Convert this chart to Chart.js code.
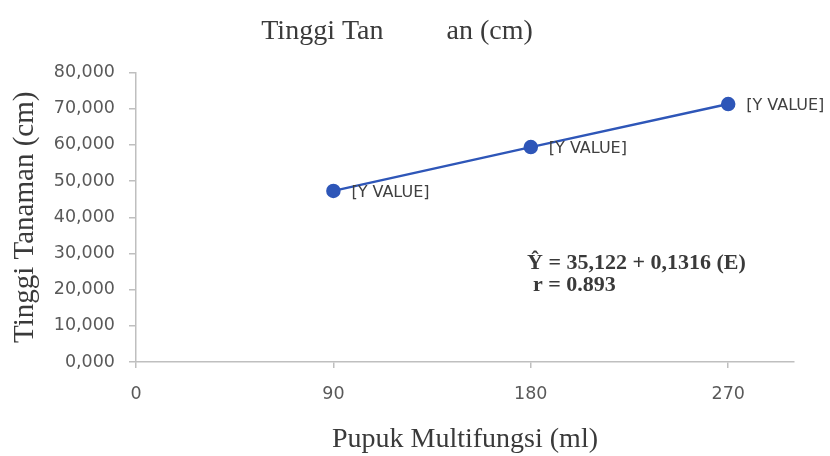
<!DOCTYPE html>
<html><head><meta charset="utf-8">
<script src="https://cdn.jsdelivr.net/npm/chart.js@4.4.0/dist/chart.umd.min.js"></script>
<style>html,body{margin:0;padding:0;background:#fff}#wrap{width:830px;height:456px}</style>
</head><body><div id="wrap"><canvas id="c" width="830" height="456"></canvas></div>
<script>
const doses = [90, 180, 270];
const heights = [47.3, 59.4, 71.3];
const xTicks = [0, 90, 180, 270];
const yTicks = [0, 10, 20, 30, 40, 50, 60, 70, 80];
const pointLabels = ['[Y VALUE]', '[Y VALUE]', '[Y VALUE]'];
const titleText = 'Tinggi Tan         an (cm)';
const xTitle = 'Pupuk Multifungsi (ml)';
const yTitle = 'Tinggi Tanaman (cm)';
const eqLines = ['\u0176 = 35,122 + 0,1316 (E)', 'r = 0.893'];

const serif = "'Liberation Serif', 'Times New Roman', serif";
const sans = "'DejaVu Sans', sans-serif";

const labelPlugin = {
  id: 'labelPlugin',
  afterDatasetsDraw(chart) {
    const ctx = chart.ctx;
    const meta = chart.getDatasetMeta(0);
    ctx.save();
    ctx.font = '16px ' + sans;
    ctx.fillStyle = '#404040';
    ctx.textBaseline = 'middle';
    ctx.textAlign = 'left';
    meta.data.forEach((pt, i) => {
      ctx.fillText(pointLabels[i], pt.x + 18, pt.y + 2);
    });
    const ca = chart.chartArea;
    ctx.font = 'bold 22px ' + serif;
    ctx.fillStyle = '#3a3a3a';
    ctx.fillText(eqLines[0], ca.left + 391, ca.top + 191);
    ctx.fillText(eqLines[1], ca.left + 397, ca.top + 213);
    ctx.restore();
  }
};

new Chart(document.getElementById('c'), {
  type: 'line',
  data: {
    datasets: [{
      data: doses.map((d, i) => ({x: d, y: heights[i]})),
      borderColor: '#2e56b8',
      backgroundColor: '#2e56b8',
      borderWidth: 2.5,
      pointRadius: 6,
      pointHoverRadius: 6,
      tension: 0,
      fill: false
    }]
  },
  options: {
    responsive: false,
    animation: false,
    devicePixelRatio: 1,
    layout: {padding: {left: 0, right: 36, top: 0, bottom: 0}},
    plugins: {
      legend: {display: false},
      tooltip: {enabled: false},
      title: {
        display: true,
        text: titleText,
        color: '#3a3a3a',
        font: {family: serif, size: 28, weight: 'normal'},
        padding: {top: 15, bottom: 24}
      }
    },
    scales: {
      x: {
        type: 'linear',
        min: 0,
        max: 300,
        afterBuildTicks: s => { s.ticks = xTicks.map(v => ({value: v})); },
        afterFit: s => { s.height = 94; },
        grid: {drawOnChartArea: false, drawTicks: true, tickLength: 6, color: '#bfbfbf', lineWidth: 1.5},
        border: {display: true, color: '#bfbfbf', width: 1.5},
        ticks: {color: '#595959', font: {family: sans, size: 17.5}, padding: 16, maxRotation: 0, callback: v => String(v)},
        title: {display: true, text: xTitle, color: '#3a3a3a', font: {family: serif, size: 28}, padding: {top: 0, bottom: 0}}
      },
      y: {
        min: 0,
        max: 80,
        afterBuildTicks: s => { s.ticks = yTicks.map(v => ({value: v})); },
        afterFit: s => { s.width = 136; },
        grid: {drawOnChartArea: false, drawTicks: true, tickLength: 7, color: '#bfbfbf', lineWidth: 1.5},
        border: {display: true, color: '#bfbfbf', width: 1.5},
        ticks: {color: '#595959', font: {family: sans, size: 17.5}, padding: 14, callback: v => v.toFixed(3).replace('.', ',')},
        title: {display: true, text: yTitle, color: '#3a3a3a', font: {family: serif, size: 29}, padding: {top: 8, bottom: 0}}
      }
    }
  },
  plugins: [labelPlugin]
});
</script>
</body></html>
